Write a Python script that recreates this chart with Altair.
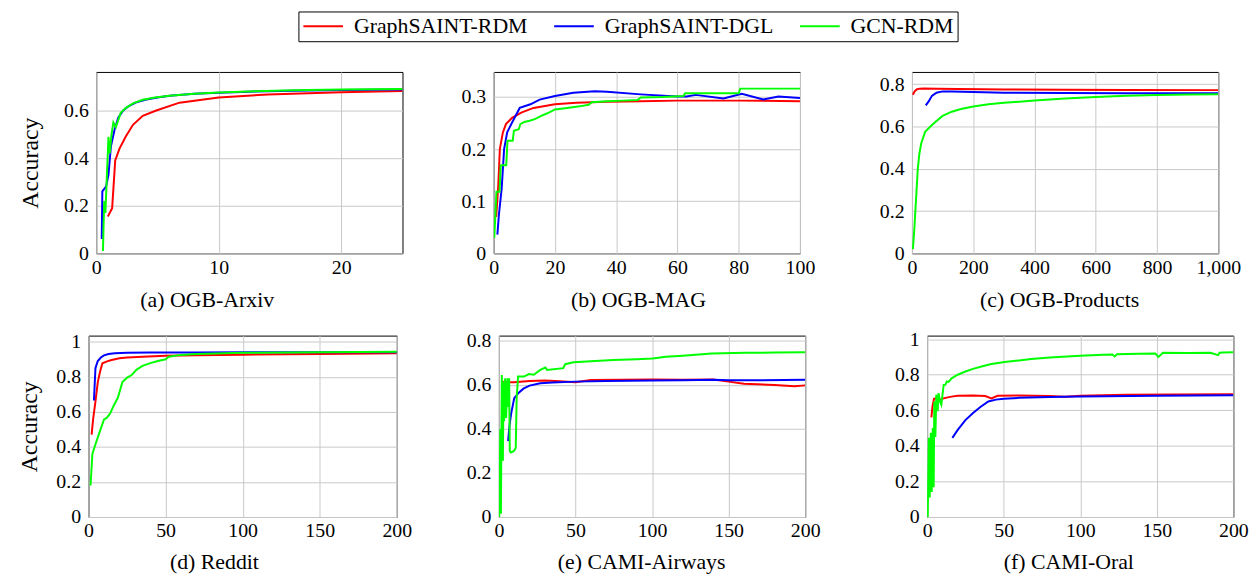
import altair as alt
import pandas as pd

FONT = "Liberation Serif, Times New Roman, Times, serif"
SERIES = ["GraphSAINT-RDM", "GraphSAINT-DGL", "GCN-RDM"]
COLORS = ["#ff0000", "#0000ff", "#00ff00"]

# (a) OGB-Arxiv
arxiv_rdm_x = [0.95, 1.3, 1.55, 1.9, 2.4, 3.0, 3.8, 4.9, 6.8, 10, 14, 20, 25]
arxiv_rdm_y = [0.155, 0.19, 0.39, 0.44, 0.49, 0.54, 0.578, 0.60, 0.633, 0.655, 0.667, 0.677, 0.682]
arxiv_dgl_x = [0.45, 0.5, 0.8, 1.0, 1.2, 1.5, 1.8, 2.2, 2.7, 3.3, 4, 5, 6, 8, 10, 13, 16, 20, 25]
arxiv_dgl_y = [0.06, 0.26, 0.28, 0.33, 0.45, 0.52, 0.57, 0.60, 0.62, 0.635, 0.645, 0.655, 0.662, 0.67, 0.675, 0.68, 0.683, 0.686, 0.688]
arxiv_gcn_x = [0.55, 0.65, 0.75, 0.85, 1.0, 1.1, 1.25, 1.4, 1.6, 2.0, 2.4, 3.0, 3.8, 4.8, 6, 8, 10, 13, 16, 20, 25]
arxiv_gcn_y = [0.01, 0.22, 0.17, 0.3, 0.49, 0.42, 0.5, 0.55, 0.53, 0.59, 0.61, 0.63, 0.645, 0.655, 0.662, 0.67, 0.676, 0.681, 0.685, 0.688, 0.69]

# (b) OGB-MAG
mag_rdm_x = [0.8, 1.5, 2, 3, 4, 6, 9, 13, 20, 27, 37, 48, 60, 80, 100]
mag_rdm_y = [0.07, 0.13, 0.2, 0.232, 0.248, 0.26, 0.27, 0.279, 0.286, 0.289, 0.291, 0.292, 0.293, 0.293, 0.292]
mag_dgl_x = [1.2, 1.7, 2.6, 3.4, 4.4, 6, 8.5, 12, 15, 20, 26, 33, 37, 48, 60, 63, 66, 75, 81, 88, 93, 100]
mag_dgl_y = [0.036, 0.074, 0.124, 0.2, 0.232, 0.251, 0.279, 0.286, 0.295, 0.302, 0.308, 0.311, 0.31, 0.305, 0.301, 0.301, 0.304, 0.297, 0.306, 0.295, 0.301, 0.298]
mag_gcn_x = [0.2, 0.9, 1.9, 2.3, 4.1, 4.5, 6.2, 6.6, 8.2, 8.7, 10, 12, 13.6, 16, 18, 20, 24, 28, 31, 32, 37, 42, 47, 48, 55, 62, 62.5, 70, 80, 80.5, 90, 100]
mag_gcn_y = [0.03, 0.118, 0.118, 0.169, 0.169, 0.216, 0.216, 0.235, 0.238, 0.248, 0.252, 0.255, 0.258, 0.265, 0.27, 0.276, 0.279, 0.282, 0.285, 0.29, 0.292, 0.293, 0.294, 0.299, 0.3, 0.302, 0.307, 0.307, 0.307, 0.316, 0.316, 0.316]

# (c) OGB-Products
prod_rdm_x = [3, 8, 15, 25, 40, 80, 150, 300, 500, 700, 1000]
prod_rdm_y = [0.75, 0.765, 0.775, 0.779, 0.78, 0.779, 0.777, 0.775, 0.774, 0.773, 0.772]
prod_dgl_x = [45, 55, 65, 80, 100, 130, 200, 300, 500, 700, 1000]
prod_dgl_y = [0.70, 0.72, 0.745, 0.76, 0.766, 0.766, 0.763, 0.76, 0.758, 0.757, 0.757]
prod_gcn_x = [3, 7, 11, 15, 19, 24, 30, 43, 60, 75, 100, 130, 160, 200, 250, 300, 400, 500, 600, 700, 800, 900, 1000]
prod_gcn_y = [0.02, 0.1, 0.2, 0.3, 0.4, 0.47, 0.52, 0.575, 0.6, 0.62, 0.65, 0.67, 0.683, 0.695, 0.705, 0.712, 0.723, 0.732, 0.74, 0.745, 0.749, 0.751, 0.753]

# (d) Reddit
red_rdm_x = [2, 3, 4.5, 6, 7.5, 9, 12, 15, 20, 25, 35, 50, 70, 100, 150, 200]
red_rdm_y = [0.47, 0.56, 0.66, 0.77, 0.83, 0.877, 0.888, 0.896, 0.906, 0.91, 0.915, 0.92, 0.923, 0.926, 0.93, 0.934]
red_dgl_x = [3.5, 4.5, 6, 8, 10, 13, 17, 25, 40, 70, 100, 150, 200]
red_dgl_y = [0.665, 0.85, 0.89, 0.91, 0.922, 0.93, 0.934, 0.937, 0.938, 0.939, 0.94, 0.94, 0.94]
red_gcn_x = [1.3, 2.5, 4.5, 7, 10, 12, 14, 16, 19, 22, 25, 28, 31, 35, 40, 45, 50, 52, 60, 70, 100, 150, 200]
red_gcn_y = [0.18, 0.36, 0.415, 0.48, 0.555, 0.568, 0.59, 0.63, 0.68, 0.77, 0.795, 0.81, 0.84, 0.862, 0.878, 0.89, 0.9, 0.915, 0.925, 0.93, 0.937, 0.94, 0.943]

# (e) CAMI-Airways
air_rdm_x = [2, 5, 10, 20, 30, 40, 50, 60, 80, 100, 120, 140, 150, 160, 180, 193, 200]
air_rdm_y = [0.615, 0.612, 0.612, 0.618, 0.62, 0.617, 0.612, 0.622, 0.624, 0.625, 0.623, 0.625, 0.615, 0.605, 0.6, 0.594, 0.598]
air_dgl_x = [6, 7, 8, 10, 13, 16, 20, 27, 35, 50, 70, 100, 120, 140, 150, 170, 200]
air_dgl_y = [0.345, 0.42, 0.47, 0.54, 0.565, 0.583, 0.597, 0.608, 0.611, 0.615, 0.618, 0.62, 0.621, 0.623, 0.621, 0.621, 0.624]
air_gcn_x = [0.2, 0.9, 1.3, 1.9, 2.6, 3.0, 3.4, 4.1, 4.7, 5.6, 6.3, 6.7, 7.1, 7.8, 9.9, 11, 11.6, 12.5, 16.4, 19.6, 22.8, 27, 30.4, 31.5, 42, 43.3, 48.7, 60, 74.6, 90, 100.4, 109, 120, 139, 161, 180, 200]
air_gcn_y = [0.0, 0.4, 0.015, 0.645, 0.255, 0.615, 0.435, 0.63, 0.45, 0.63, 0.5, 0.63, 0.3, 0.293, 0.3, 0.315, 0.54, 0.638, 0.638, 0.649, 0.646, 0.668, 0.679, 0.668, 0.676, 0.694, 0.703, 0.708, 0.713, 0.717, 0.72, 0.728, 0.733, 0.743, 0.746, 0.747, 0.748]

# (f) CAMI-Oral
oral_rdm_x = [2.8, 3.5, 4.5, 6, 7.5, 8.6, 10, 12, 16, 20, 30, 38, 42, 46, 60, 80, 90, 100, 130, 160, 200]
oral_rdm_y = [0.56, 0.62, 0.665, 0.668, 0.668, 0.66, 0.665, 0.67, 0.677, 0.682, 0.683, 0.68, 0.667, 0.682, 0.683, 0.681, 0.676, 0.682, 0.688, 0.689, 0.69]
oral_dgl_x = [16.5, 20, 25, 30, 35, 40, 45, 50, 60, 80, 100, 150, 200]
oral_dgl_y = [0.445, 0.49, 0.545, 0.585, 0.62, 0.65, 0.66, 0.665, 0.67, 0.675, 0.678, 0.682, 0.684]
oral_gcn_x = [0.4, 1.1, 1.7, 2.4, 3.0, 3.7, 4.3, 4.7, 5.4, 6.0, 6.9, 7.5, 8.4, 9.3, 10.8, 11.9, 12.9, 14, 16, 20, 25, 30, 35.5, 42, 50.6, 60, 68, 80, 100, 115, 121, 122.5, 124, 138, 149, 151, 153, 154, 170, 185, 190, 191, 193, 200]
oral_gcn_y = [0.0, 0.446, 0.11, 0.474, 0.14, 0.5, 0.167, 0.65, 0.45, 0.688, 0.595, 0.697, 0.65, 0.632, 0.743, 0.743, 0.762, 0.76, 0.78, 0.8, 0.818, 0.833, 0.846, 0.86, 0.872, 0.88, 0.888, 0.897, 0.907, 0.912, 0.914, 0.903, 0.915, 0.918, 0.92, 0.9, 0.915, 0.924, 0.922, 0.923, 0.91, 0.924, 0.925, 0.926]

LEGEND = alt.Legend(
    orient="none", legendX=212, legendY=-61, direction="horizontal", columns=3,
    title=None, symbolType="M-1,0H3", symbolSize=400, symbolStrokeWidth=2,
    labelFont=FONT, labelFontSize=22, labelLimit=400, labelOffset=30,
    columnPadding=22, padding=4, strokeColor="black", fillColor="white",
)


def panel(series, xdom, ydom, xticks, yticks, caption, cap_shift, yext=34,
          ytitle=None, ytitle_x=-54, xfmt="~r", w=309, h=183, cap_pad=11, top_title=False):
    xaxis = alt.Axis(values=xticks, format=xfmt, title=caption, titleFontSize=22,
                     titlePadding=cap_pad, labelPadding=4, titleX=w / 2 + cap_shift,
                     minExtent=26, maxExtent=26, labelFlush=False)
    if ytitle is None:
        yaxis = alt.Axis(values=yticks, format="~r", title=None, labelPadding=8,
                         minExtent=yext, maxExtent=yext)
    else:
        yaxis = alt.Axis(values=yticks, format="~r", title=ytitle, titleFontSize=24,
                         titleX=ytitle_x, titleY=h / 2, labelPadding=8,
                         minExtent=yext, maxExtent=yext)
    layers = []
    for name, (xs, ys) in zip(SERIES, series):
        df = pd.DataFrame({"x": xs, "y": ys, "series": name})
        layers.append(
            alt.Chart(df).mark_line(strokeWidth=2, clip=True).encode(
                x=alt.X("x:Q", scale=alt.Scale(domain=xdom, nice=False, zero=False), axis=xaxis),
                y=alt.Y("y:Q", scale=alt.Scale(domain=ydom, nice=False, zero=False), axis=yaxis),
                color=alt.Color("series:N", scale=alt.Scale(domain=SERIES, range=COLORS), legend=LEGEND),
            )
        )
    ch = alt.layer(*layers).properties(width=w, height=h)
    if top_title:
        ch = ch.properties(title=alt.TitleParams(" ", fontSize=2, offset=8))
    return ch


acc_ticks = [0, 0.2, 0.4, 0.6, 0.8, 1]
a = panel([(arxiv_rdm_x, arxiv_rdm_y), (arxiv_dgl_x, arxiv_dgl_y), (arxiv_gcn_x, arxiv_gcn_y)],
          [0, 25], [0, 0.762], [0, 10, 20], [0, 0.2, 0.4, 0.6], "(a) OGB-Arxiv", -43,
          yext=88, ytitle="Accuracy", ytitle_x=-54)
b = panel([(mag_rdm_x, mag_rdm_y), (mag_dgl_x, mag_dgl_y), (mag_gcn_x, mag_gcn_y)],
          [0, 100], [0, 0.348], [0, 20, 40, 60, 80, 100], [0, 0.1, 0.2, 0.3], "(b) OGB-MAG", -9)
c = panel([(prod_rdm_x, prod_rdm_y), (prod_dgl_x, prod_dgl_y), (prod_gcn_x, prod_gcn_y)],
          [0, 1000], [0, 0.858], [0, 200, 400, 600, 800, 1000], [0, 0.2, 0.4, 0.6, 0.8],
          "(c) OGB-Products", -6, xfmt=",.0f")
d = panel([(red_rdm_x, red_rdm_y), (red_dgl_x, red_dgl_y), (red_gcn_x, red_gcn_y)],
          [0, 200], [0, 1.035], [0, 50, 100, 150, 200], acc_ticks, "(d) Reddit", -29,
          yext=71, ytitle="Accuracy", ytitle_x=-47, w=311, cap_pad=9, top_title=True)
e = panel([(air_rdm_x, air_rdm_y), (air_dgl_x, air_dgl_y), (air_gcn_x, air_gcn_y)],
          [0, 200], [0, 0.824], [0, 50, 100, 150, 200], [0, 0.2, 0.4, 0.6, 0.8],
          "(e) CAMI-Airways", -11, cap_pad=9, top_title=True)
f = panel([(oral_rdm_x, oral_rdm_y), (oral_dgl_x, oral_dgl_y), (oral_gcn_x, oral_gcn_y)],
          [0, 200], [0, 1.02], [0, 50, 100, 150, 200], acc_ticks, "(f) CAMI-Oral", -12,
          cap_pad=9, top_title=True)

row1 = alt.hconcat(alt.hconcat(a, b, spacing=56), c, spacing=62)
row2 = alt.hconcat(alt.hconcat(d, e, spacing=52), f, spacing=72)

chart = (
    alt.vconcat(row1, row2, spacing=7, center=True)
    .properties(padding=0, background="white")
    .configure_view(stroke="black", strokeWidth=1)
    .configure_axis(
        grid=True, gridColor="#c8c8c8", gridWidth=1, domain=False, ticks=False, tickSize=0,
        labelFont=FONT, labelFontSize=20, labelColor="black",
        titleFont=FONT, titleFontWeight="normal", titleColor="black",
    )
    .configure_title(font=FONT)
)

chart.save("out.html", embed_options={"renderer": "svg", "actions": False})
